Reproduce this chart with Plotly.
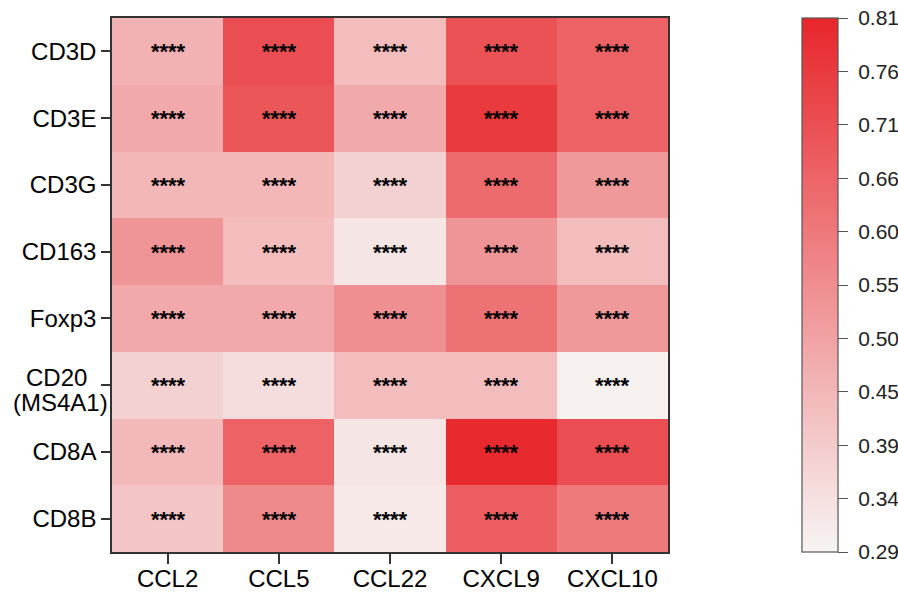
import plotly.graph_objects as go

# Chemokines (columns) and immune marker genes (rows)
chemokines = ["CCL2", "CCL5", "CCL22", "CXCL9", "CXCL10"]
markers = ["CD3D", "CD3E", "CD3G", "CD163", "Foxp3", "CD20", "CD8A", "CD8B"]
marker_labels = ["CD3D", "CD3E", "CD3G", "CD163", "Foxp3", "", "CD8A", "CD8B"]

# Correlation coefficients, one list per marker row
r_CD3D = [0.46, 0.71, 0.43, 0.70, 0.66]
r_CD3E = [0.48, 0.69, 0.48, 0.76, 0.66]
r_CD3G = [0.445, 0.445, 0.38, 0.64, 0.52]
r_CD163 = [0.53, 0.43, 0.33, 0.53, 0.43]
r_Foxp3 = [0.48, 0.48, 0.545, 0.62, 0.52]
r_CD20 = [0.38, 0.35, 0.43, 0.43, 0.30]
r_CD8A = [0.44, 0.66, 0.33, 0.80, 0.71]
r_CD8B = [0.41, 0.56, 0.32, 0.67, 0.60]
values = [r_CD3D, r_CD3E, r_CD3G, r_CD163, r_Foxp3, r_CD20, r_CD8A, r_CD8B]

# Significance marks
stars = [["<b>****</b>"] * len(chemokines) for _ in markers]

# Colour bar scale
c_min, c_max = 0.29, 0.81
cbar_labels = ["0.29", "0.34", "0.39", "0.45", "0.50", "0.55",
               "0.60", "0.66", "0.71", "0.76", "0.81"]
n_lab = len(cbar_labels)
cbar_vals = [c_min + (c_max - c_min) * k / (n_lab - 1) for k in range(n_lab)]

FONT = "Liberation Sans, Arial, Helvetica, sans-serif"

fig = go.Figure(
    go.Heatmap(
        z=values,
        x=chemokines,
        y=markers,
        text=stars,
        texttemplate="%{text}",
        textfont=dict(family=FONT, size=22, color="black"),
        colorscale=[[0, "#F7F5F4"], [1, "#E8262B"]],
        zmin=c_min,
        zmax=c_max,
        xgap=0,
        ygap=0,
        colorbar=dict(
            x=1.241,
            xanchor="left",
            xpad=0,
            y=0.5,
            yanchor="middle",
            ypad=0,
            len=1,
            lenmode="fraction",
            thickness=36,
            outlinewidth=1.2,
            outlinecolor="#555555",
            tickmode="array",
            tickvals=cbar_vals,
            ticktext=[" " + t for t in cbar_labels],
            ticks="outside",
            ticklen=10,
            tickwidth=1.2,
            tickcolor="#555555",
            tickfont=dict(family=FONT, size=21, color="#222222"),
        ),
    )
)

fig.update_xaxes(
    automargin=False,
    showline=True,
    linecolor="#333333",
    linewidth=1.5,
    mirror=True,
    ticks="outside",
    ticklen=10,
    tickwidth=1.5,
    tickcolor="#333333",
    ticklabelstandoff=-6,
    tickfont=dict(family=FONT, size=24, color="black"),
    showgrid=False,
    zeroline=False,
)
fig.update_yaxes(
    automargin=False,
    autorange="reversed",
    showline=True,
    linecolor="#333333",
    linewidth=1.5,
    mirror=True,
    ticks="outside",
    ticklen=9,
    tickwidth=1.5,
    tickcolor="#333333",
    tickmode="array",
    tickvals=markers,
    ticktext=marker_labels,
    tickfont=dict(family=FONT, size=24, color="black"),
    showgrid=False,
    zeroline=False,
)

# Two-line, centred label for the CD20 row
fig.add_annotation(
    x=-0.100,
    xref="paper",
    xanchor="center",
    y="CD20",
    yref="y",
    yanchor="middle",
    yshift=8,
    text="CD20",
    showarrow=False,
    font=dict(family=FONT, size=24, color="black"),
)
fig.add_annotation(
    x=-0.093,
    xref="paper",
    xanchor="center",
    y="CD20",
    yref="y",
    yanchor="middle",
    yshift=-17,
    text="(MS4A1)",
    showarrow=False,
    font=dict(family=FONT, size=24, color="black"),
)

fig.update_layout(
    width=898,
    height=592,
    margin=dict(l=112, r=230, t=18, b=40, autoexpand=False),
    paper_bgcolor="white",
    plot_bgcolor="white",
    font=dict(family=FONT),
)

fig.write_html("out.html")
